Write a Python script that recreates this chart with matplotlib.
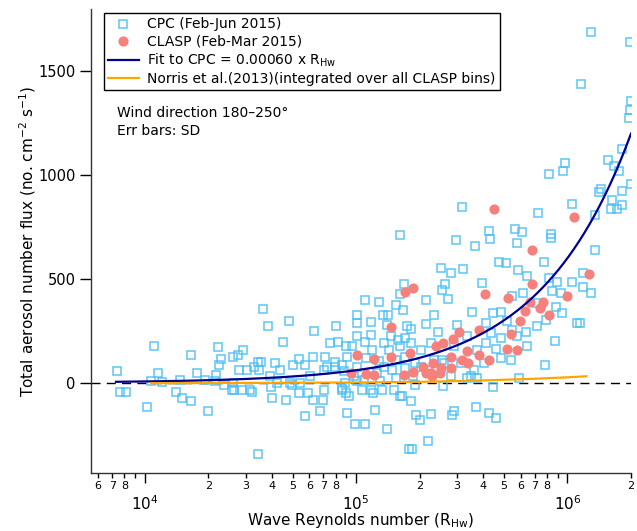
import numpy as np
import matplotlib
matplotlib.use("Agg")
import matplotlib.pyplot as plt
from matplotlib.ticker import LogLocator, FuncFormatter

# CPC fluxes (Feb-Jun 2015)
cpc_r = [7.4e3, 7.6e3, 8.1e3, 1.10e4, 1.15e4, 1.07e4, 1.21e4, 1.02e4, 1.40e4, 1.50e4,
         1.66e4, 1.47e4, 1.66e4, 1.77e4, 1.92e4, 2.00e4, 2.16e4, 2.15e4, 2.21e4, 2.30e4,
         2.25e4, 2.61e4, 2.77e4, 2.92e4, 2.80e4, 3.04e4, 2.61e4, 2.58e4, 2.63e4, 3.13e4,
         3.21e4, 2.36e4, 3.27e4, 3.46e4, 3.62e4, 3.43e4, 3.83e4, 4.81e4, 4.49e4, 6.30e4,
         8.00e4, 1.01e5, 1.10e5, 1.01e5, 7.55e4, 8.18e4, 8.97e4, 5.75e4, 6.77e4, 9.07e4,
         9.85e4, 1.10e5, 4.65e4, 4.01e4, 5.35e4, 5.90e4, 7.02e4, 6.25e4, 6.98e4, 8.61e4,
         9.23e4, 3.94e4, 2.88e4, 3.56e4, 4.15e4, 5.03e4, 5.35e4, 6.25e4, 7.16e4, 7.98e4,
         7.02e4, 4.88e4, 5.44e4, 6.07e4, 3.93e4, 4.38e4, 4.23e4, 8.80e4, 9.75e4, 8.82e4,
         8.53e4, 1.28e5, 1.17e5, 1.34e5, 1.41e5, 1.55e5, 1.68e5, 1.62e5, 1.66e5, 1.40e5,
         1.01e5, 1.10e5, 1.17e5, 1.57e5, 1.75e5, 1.71e5, 3.44e4, 5.75e4, 7.29e4, 7.98e4,
         8.55e4, 9.07e4, 4.97e4, 8.92e4, 1.17e5, 1.20e5, 1.23e5, 1.40e5, 1.33e5, 1.51e5,
         1.65e5, 1.78e5, 1.26e5, 1.35e5, 1.48e5, 1.09e5, 1.30e5, 1.01e5, 1.43e5, 1.62e5,
         1.35e5, 1.46e5, 1.82e6, 1.55e6, 9.74e5, 9.57e5, 8.21e5, 1.66e6, 1.76e6, 1.99e6,
         1.44e6, 1.41e6, 1.82e6, 1.62e6, 1.82e6, 1.61e6, 1.71e6, 1.05e6, 7.29e5, 1.35e6,
         3.17e5, 4.24e5, 4.28e5, 5.65e5, 6.09e5, 5.78e5, 8.36e5, 8.36e5, 2.96e5, 3.66e5,
         1.35e6, 7.75e5, 4.76e5, 5.12e5, 2.52e5, 3.19e5, 2.80e5, 5.86e5, 6.46e5, 3.94e5,
         2.63e5, 2.55e5, 2.13e5, 2.71e5, 1.61e5, 8.18e5, 8.97e5, 1.05e6, 1.19e6, 1.19e6,
         1.30e6, 8.43e5, 9.30e5, 6.18e5, 5.49e5, 7.21e5, 8.81e5, 9.47e5, 1.15e6, 1.11e6,
         8.74e5, 3.53e5, 2.33e5, 4.43e5, 4.83e5, 4.11e5, 5.20e5, 3.01e5, 2.15e5, 1.81e5,
         2.45e5, 3.36e5, 4.33e5, 5.49e5, 6.34e5, 7.21e5, 7.89e5, 6.46e5, 4.57e5, 4.10e5,
         4.83e5, 5.39e5, 7.82e5, 5.90e5, 4.45e5, 2.59e5, 1.89e5, 3.48e5, 3.61e5, 2.90e5,
         2.25e5, 1.81e5, 2.02e5, 1.89e5, 2.61e5, 4.03e5, 3.74e5, 1.61e5, 1.82e5, 1.91e5,
         2.00e5, 2.25e5, 2.83e5, 2.90e5, 3.70e5, 4.26e5, 4.61e5, 1.84e5, 2.18e5, 1.30e6,
         1.98e6, 1.16e6, 1.99e6, 1.98e6, 1.96e6, 1.71e5, 1.85e5, 2.02e5, 2.33e5, 2.80e5,
         3.12e5, 3.36e5, 3.74e5, 4.83e5, 5.78e5, 2.56e5, 2.19e5, 1.01e5, 1.11e5, 1.19e5,
         1.28e5, 1.55e5, 1.71e5, 1.07e5, 1.55e5, 9.6e4]
cpc_flux = [54, -47, -43, 178, 45, 10, 3, -117, -45, -75,
            -88, 14, 135, 47, 14, -135, 38, 6, 172, 114,
            87, 125, 135, 159, 63, 59, -1, -34, -37, -37,
            -47, -10, 78, 63, 356, -343, 275, 297, 194, 247,
            274, 327, 396, 287, 191, 194, 175, -162, -135, -146,
            -197, -197, -82, -74, -50, -50, -37, -82, -82, -37,
            -66, -21, -34, 101, 95, 87, 114, 124, 124, 78,
            63, -1, -1, 30, 30, 63, -1, 54, 30, -1,
            -25, 388, 293, 328, 326, 375, 475, 428, 351, 279,
            227, 197, 229, 207, 271, 215, 102, 87, 78, 102,
            87, 126, -10, -50, -34, -50, -130, -223, -34, -34,
            -66, -317, 47, 78, 63, 14, 6, 6, 159, 175,
            191, 223, 1125, 1072, 1059, 1018, 1003, 1043, 1021, 957,
            931, 918, 925, 880, 854, 838, 835, 859, 816, 808,
            848, 732, 692, 740, 725, 672, 716, 696, 688, 659,
            639, 583, 580, 576, 553, 550, 527, 543, 516, 479,
            475, 447, 399, 402, 710, 503, 487, 484, 530, 460,
            431, 442, 431, 434, 420, 383, 367, 335, 290, 290,
            203, 343, 324, 338, 343, 287, 295, 279, 284, 261,
            242, 223, 239, 255, 242, 271, 303, 179, 163, 191,
            119, 111, 83, 23, -23, -18, -10, 30, 63, 175,
            191, 191, 159, 95, 95, 95, 159, -66, -90, -154,
            -178, -149, -157, -135, -117, -146, -170, -319, -282, 1688,
            1641, 1441, 1357, 1315, 1275, 126, 30, 78, 111, 30,
            95, 23, 23, 215, 223, 111, 63, 78, 120, 159,
            106, 111, 72, -34, 24, 178]

# CLASP fluxes (Feb-Mar 2015)
clasp_r = [4.5e5, 1.07e6, 6.8e5, 1.27e6, 6.8e5, 1.85e5, 1.70e5, 4.08e5, 5.25e5, 9.95e5,
           6.65e5, 7.69e5, 7.41e5, 6.29e5, 8.19e5, 5.96e5, 5.41e5, 3.80e5, 3.08e5, 2.88e5,
           2.58e5, 2.40e5, 5.15e5, 5.75e5, 3.36e5, 3.80e5, 4.27e5, 2.80e5, 3.18e5, 3.40e5,
           1.79e5, 2.31e5, 2.08e5, 2.51e5, 2.82e5, 1.85e5, 1.69e5, 2.15e5, 2.27e5, 2.49e5,
           2.29e5, 1.46e5, 1.01e5, 1.22e5, 1.46e5, 9.5e4, 1.11e5, 1.22e5]
clasp_flux = [837, 797, 640, 525, 477, 458, 436, 429, 409, 420,
              389, 388, 362, 346, 327, 295, 236, 253, 245, 212,
              191, 175, 160, 159, 155, 133, 111, 122, 111, 95,
              141, 95, 75, 71, 71, 51, 35, 47, 47, 47,
              30, 266, 135, 115, 125, 45, 43, 35]

# Norris et al. (2013), integrated over all CLASP bins
norris_r = [1.07e4, 3e4, 1e5, 2e5, 4e5, 7e5, 1.0e6, 1.23e6]
norris_flux = [-2, -1, 1, 4, 11, 19, 26, 31]

# fit to CPC, from the legend
fit_slope = 0.00060
fit_range = [7.3e3, 2.0e6]

fig = plt.figure(figsize=(6.37, 5.31), dpi=100)
ax = fig.add_axes([0.1429, 0.1092, 0.8477, 0.8738])

ax.axhline(0, color="black", lw=1.0, dashes=(6.5, 4.5), zorder=1)

ax.plot(cpc_r, cpc_flux, "s", ms=6, mfc="none", mec="#4cbff5", mew=1.1,
        alpha=0.9, label="CPC (Feb-Jun 2015)", zorder=2)
ax.plot(clasp_r, clasp_flux, "o", ms=7.3, color="#f5807c", mec="none",
        label="CLASP (Feb-Mar 2015)", zorder=3)

fit_r = np.geomspace(fit_range[0], fit_range[1], 200)
ax.plot(fit_r, fit_slope * fit_r, color="#00008f", lw=1.6,
        label=r"Fit to CPC = 0.00060 x R$_{\mathrm{Hw}}$", zorder=4)
ax.plot(norris_r, norris_flux, color="#ffa500", lw=1.6,
        label="Norris et al.(2013)(integrated over all CLASP bins)", zorder=4)

ax.set_xscale("log")
ax.set_xlim(5560, 2.0e6)
ax.set_ylim(-435, 1800)

for s in ["top", "right"]:
    ax.spines[s].set_visible(False)
for s in ["left", "bottom"]:
    ax.spines[s].set_color("#333333")
    ax.spines[s].set_linewidth(1.0)

ax.set_yticks([0, 500, 1000, 1500])
ax.tick_params(axis="y", which="major", direction="out", length=8, width=1,
               labelsize=10.5, pad=3)

ax.xaxis.set_major_locator(LogLocator(base=10, numticks=10))
ax.xaxis.set_minor_locator(LogLocator(base=10, subs=np.arange(2, 10), numticks=20))


def minor_lab(x, pos):
    d = int(round(x / 10 ** np.floor(np.log10(x) + 1e-9)))
    return "" if d == 9 else str(d)


ax.xaxis.set_minor_formatter(FuncFormatter(minor_lab))
ax.tick_params(axis="x", which="major", direction="out", length=7, width=1,
               labelsize=11, pad=8)
ax.tick_params(axis="x", which="minor", direction="out", length=3.5, width=1,
               labelsize=8, pad=2)

ax.set_xlabel(r"Wave Reynolds number (R$_{\mathrm{Hw}}$)", fontsize=11, labelpad=-1)
ax.set_ylabel(r"Total aerosol number flux (no. cm$^{-2}$ s$^{-1}$)", fontsize=11,
              labelpad=0)

leg = ax.legend(loc="upper left", bbox_to_anchor=(0.024, 0.991), borderaxespad=0,
                fontsize=10, fancybox=False, framealpha=1, edgecolor="black",
                handlelength=2.2, handletextpad=0.6, labelspacing=0.22,
                borderpad=0.3)
leg.get_frame().set_linewidth(1.0)

ax.text(0.048, 0.776, "Wind direction 180\u2013250\u00b0", transform=ax.transAxes,
        fontsize=10, va="center", ha="left")
ax.text(0.048, 0.737, "Err bars: SD", transform=ax.transAxes,
        fontsize=10, va="center", ha="left")

plt.savefig("out.png", dpi=100)
